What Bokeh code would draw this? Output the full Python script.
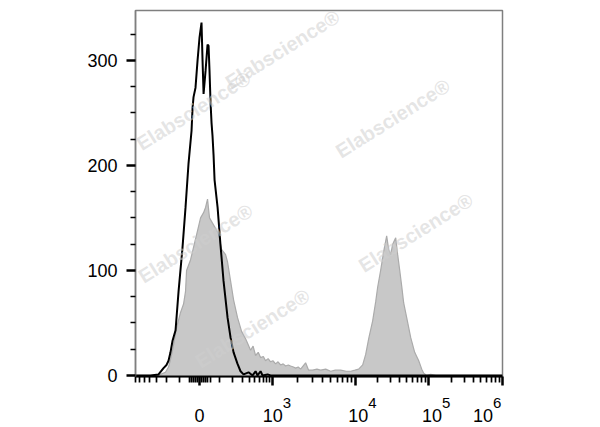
import numpy as np
from bokeh.plotting import figure
from bokeh.layouts import column
from bokeh.models import FixedTicker, CustomJSTickFormatter, Range1d, Label, ColumnDataSource
from bokeh.core.properties import value
from bokeh.embed import file_html
from bokeh.resources import INLINE

# ---- data (x in biexponential display units, y = cell count) ----
ctrl_x = [-0.873, -0.668, -0.559, -0.491, -0.45, -0.423, -0.396, -0.368, -0.327, -0.286,
          -0.232, -0.191, -0.150, -0.109, -0.095, -0.082, -0.055, -0.027, 0.0, 0.027,
          0.041, 0.055, 0.082, 0.109, 0.123, 0.136, 0.150, 0.164, 0.177, 0.191, 0.205,
          0.246, 0.286, 0.327, 0.382, 0.423, 0.464, 0.518, 0.559, 0.600, 0.668, 0.723,
          0.764, 0.791, 0.832, 0.859, 0.928, 0.969, 1.5, 4.13]
ctrl_y = [0, 0, 1, 7, 10, 14, 22, 33, 43, 80,
          122, 160, 202, 233, 255, 265, 274, 300, 322, 336,
          300, 268, 290, 315, 314, 290, 260, 240, 228, 210, 186,
          160, 124, 90, 55, 36, 22, 11, 4, 1, 3, 0,
          4, 0, 4, 0, 1, 0, 0, 0]

stain_x = [-0.873, -0.559, -0.532, -0.464, -0.423, -0.396, -0.368, -0.314, -0.259, -0.218,
           -0.191, -0.177, -0.150, -0.123, -0.082, -0.027, 0.014, 0.055, 0.082, 0.109,
           0.136, 0.177, 0.218, 0.259, 0.300, 0.355, 0.382, 0.423, 0.464, 0.518, 0.573,
           0.628, 0.696, 0.730, 0.764, 0.800, 0.832, 0.870, 0.900, 0.935, 0.969, 1.000,
           1.037, 1.070, 1.105, 1.140, 1.173, 1.210, 1.241, 1.280, 1.310, 1.345, 1.378,
           1.446, 1.487, 1.542, 1.600, 1.651, 1.720, 1.787, 1.850, 1.924, 2.000, 2.060,
           2.120, 2.169, 2.224, 2.265, 2.306, 2.360, 2.401, 2.428, 2.469, 2.510, 2.551,
           2.578, 2.606, 2.633, 2.674, 2.701, 2.729, 2.756, 2.783, 2.824, 2.879, 2.933,
           2.988, 3.029, 3.056, 3.097, 3.151, 3.220, 4.13]
stain_y = [0, 0, 1, 3, 8, 15, 24, 45, 60, 68,
           80, 100, 105, 110, 122, 138, 150, 155, 160, 168,
           150, 145, 140, 135, 120, 115, 108, 90, 72, 55, 42,
           35, 24, 28, 19, 22, 17, 18, 14, 16, 13, 14,
           11, 13, 10, 11, 9, 10, 9, 8, 7, 8, 6,
           12, 5, 5, 6, 5, 6, 4, 5, 5, 4, 4,
           5, 6, 10, 20, 35, 52, 70, 84, 100, 118, 133,
           120, 115, 125, 131, 115, 100, 85, 69, 55, 36, 22,
           14, 6, 2, 0, 1, 0, 0]

major_vals = [0, 1e3, 1e4, 1e5, 1e6]
major_base = ["0", "10", "10", "10", "10"]
major_exp = ["3", "4", "5", "6"]
label_dx = [0, 0.5, 2.5, 3, -19.5]      # label shift from its tick (px)
minor_vals = ([-v for v in range(100, 800, 100)] + [-v for v in range(10, 60, 10)] +
              list(range(10, 60, 10)) + list(range(100, 1000, 100)) +
              [k * 1e3 for k in range(2, 10)] + [k * 1e4 for k in range(2, 10)] +
              [k * 1e5 for k in range(2, 10)])
y_major = [0, 100, 200, 300]
y_minor = [25, 50, 75, 125, 150, 175, 225, 250, 275, 325]

wm_x = [1.132, -0.082, 2.633, -0.055, 2.947, 0.723]
wm_y = [310.5, 252, 244.8, 125.7, 136, 44.8]


def biex(v):
    v = np.asarray(v, dtype=float)
    out = np.empty_like(v)
    small = np.abs(v) <= 1000
    out[small] = np.sign(v[small]) * 0.992 * np.arcsinh(np.abs(v[small]) / 120) / np.arcsinh(1000 / 120)
    big = ~small
    out[big] = np.interp(np.log10(v[big]), [3, 4, 5, 6], [0.992, 2.128, 3.128, 4.13])
    return out


maj_pos = [float(t) for t in biex(major_vals)]
min_pos = [float(t) for t in biex(minor_vals)]

Y0 = -1
xr = Range1d(-0.873, 4.13)
p = figure(width=600, height=386, x_range=xr, y_range=Range1d(Y0, 347.5),
           output_backend="svg", toolbar_location=None,
           min_border_left=135, min_border_right=98, min_border_top=10, min_border_bottom=10)
p.background_fill_color = "white"
p.border_fill_color = "white"
p.outline_line_color = "#7f7f7f"
p.outline_line_width = 1.5
p.xgrid.visible = False
p.ygrid.visible = False

p.varea(x=stain_x, y1=0, y2=stain_y, fill_color="#c8c8c8")
p.line(stain_x, stain_y, line_color="#ababab", line_width=1.2)
p.line(ctrl_x, ctrl_y, line_color="black", line_width=2)

for wx, wy in zip(wm_x, wm_y):
    p.add_layout(Label(x=wx, y=wy, text="Elabscience\u00ae", angle=0.56, angle_units="rad",
                       text_font="Liberation Sans", text_font_style="bold", text_font_size="20px",
                       text_color="#cfcfcf", text_alpha=0.55, text_align="center",
                       text_baseline="middle"))

xa = p.xaxis[0]
xa.ticker = FixedTicker(ticks=maj_pos, minor_ticks=min_pos)
xa.formatter = CustomJSTickFormatter(code="return '';")
xa.major_label_text_font_size = "0px"
xa.axis_line_color = "black"
xa.axis_line_width = 2
xa.major_tick_in = 0
xa.major_tick_out = 9
xa.minor_tick_in = 0
xa.minor_tick_out = 6
xa.major_tick_line_width = 2.5
xa.minor_tick_line_width = 1.7
xa.major_label_standoff = 0

ya = p.yaxis[0]
ya.ticker = FixedTicker(ticks=y_major, minor_ticks=y_minor)
ya.axis_line_color = "#7f7f7f"
ya.axis_line_width = 1.5
ya.major_tick_in = 0
ya.major_tick_out = 9
ya.minor_tick_in = 0
ya.minor_tick_out = 5
ya.major_tick_line_width = 2.5
ya.minor_tick_line_width = 1.5
ya.major_label_text_font = "Liberation Sans"
ya.major_label_text_font_size = "18px"
ya.major_label_text_color = "black"
ya.major_label_standoff = 9

# ---- strip below the plot carrying the biexponential tick labels ----
q = figure(width=600, height=41, x_range=xr, y_range=Range1d(0, 41), title=None,
           output_backend="svg", toolbar_location=None, x_axis_type=None, y_axis_type=None,
           min_border_left=135, min_border_right=98, min_border_top=0, min_border_bottom=0)
q.title = None
q.outline_line_color = None
q.xgrid.visible = False
q.ygrid.visible = False
base_src = ColumnDataSource(dict(x=maj_pos, text=major_base, dx=label_dx))
q.text(x="x", y=12, text="text", x_offset="dx", source=base_src,
       text_align="center", text_baseline="alphabetic",
       text_font=value("Liberation Sans"), text_font_size="18px", text_color="black")
exp_src = ColumnDataSource(dict(x=maj_pos[1:], text=major_exp, dx=[d + 10 for d in label_dx[1:]]))
q.text(x="x", y=25, text="text", x_offset="dx", source=exp_src,
       text_align="left", text_baseline="alphabetic",
       text_font=value("Liberation Sans"), text_font_size="15px", text_color="black")

layout = column(p, q, spacing=0)
open("out.html", "w").write(file_html(layout, INLINE))
